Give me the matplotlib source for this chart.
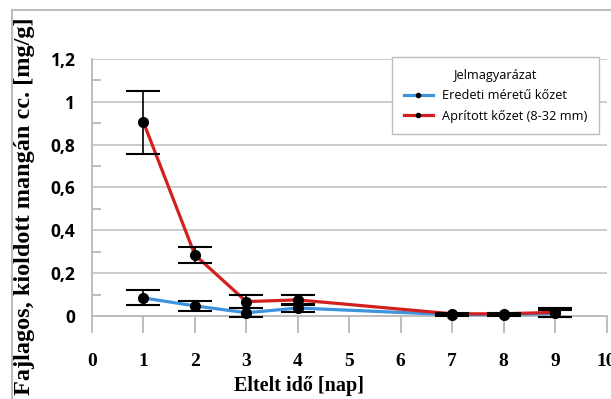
import matplotlib.pyplot as plt
from matplotlib.font_manager import FontProperties
from matplotlib.lines import Line2D
from matplotlib.patches import Rectangle

# data
days = [1, 2, 3, 4, 7, 8, 9]
eredeti = [0.084, 0.047, 0.015, 0.037, 0.006, 0.006, 0.012]
eredeti_err = [0.035, 0.022, 0.02, 0.018, 0.005, 0.005, 0.015]
apritott = [0.905, 0.285, 0.067, 0.075, 0.01, 0.01, 0.017]
apritott_err = [0.147, 0.037, 0.03, 0.023, 0.006, 0.006, 0.02]

x_ticks = list(range(0, 11))
y_ticks = [0, 0.2, 0.4, 0.6, 0.8, 1.0, 1.2]
y_labels = ["0", "0,2", "0,4", "0,6", "0,8", "1", "1,2"]

blue = "#3d93dc"
red = "#d41f1f"
gray = "#c8c8c8"

serif_bold = FontProperties(family="Liberation Serif", weight="bold", size=14)

fig = plt.figure(figsize=(6.11, 3.99), dpi=100)
ax = fig.add_axes([92 / 611, (399 - 332) / 399, (606.5 - 92) / 611, (332 - 59) / 399])

ax.set_xlim(0, 10)
ax.set_ylim(-0.075, 1.2)

# grid + axis lines
for yv in y_ticks[1:]:
    ax.axhline(yv, color=gray, lw=1.3, zorder=0)
ax.axhline(0, color="#b8b8b8", lw=1.3, zorder=1)
for xv in x_ticks[1:]:
    ax.plot([xv, xv], [-0.075, 0], color="#b8b8b8", lw=1.3, clip_on=False, zorder=1)
for yv in [0.1, 0.3, 0.5, 0.7, 0.9, 1.1]:
    ax.plot([0, 0.16], [yv, yv], color="#b8b8b8", lw=1.3, zorder=1)

for s in ["top", "right", "bottom"]:
    ax.spines[s].set_visible(False)
ax.spines["left"].set_color("#b8b8b8")
ax.spines["left"].set_linewidth(1.3)

ax.set_xticks(x_ticks)
ax.set_xticklabels([str(v) for v in x_ticks], fontproperties=serif_bold)
ax.tick_params(axis="x", length=0, pad=15)
ax.set_yticks(y_ticks)
ax.set_yticklabels(y_labels, fontproperties=FontProperties(family="Open Sans", weight="bold", size=12.5))
ax.tick_params(axis="y", length=0, pad=12)

# series
ax.plot(days, eredeti, color=blue, lw=2.3, zorder=3)
ax.plot(days, apritott, color=red, lw=2.3, zorder=4)
ax.errorbar(days, eredeti, yerr=eredeti_err, fmt="o", color="black", ms=7,
            capsize=12, elinewidth=1.2, capthick=1.5, zorder=5)
ax.errorbar(days, apritott, yerr=apritott_err, fmt="o", color="black", ms=7,
            capsize=12, elinewidth=1.2, capthick=1.5, zorder=5)

# legend
handles = [
    Line2D([], [], color=blue, lw=2.3, marker="o", ms=3, mfc="black", mec="black"),
    Line2D([], [], color=red, lw=2.3, marker="o", ms=3, mfc="black", mec="black"),
]
leg = ax.legend(handles, ["Eredeti méretű kőzet", "Aprított kőzet (8-32 mm)"],
                title="Jelmagyarázat", loc="upper left",
                bbox_to_anchor=((392 - 92) / 514.5, (332 - 57) / 273),
                prop={"family": "Open Sans", "size": 9.2},
                title_fontproperties={"family": "Open Sans", "size": 9.2},
                frameon=True, fancybox=False, edgecolor="#bdbdbd", framealpha=1,
                handlelength=2.3, handletextpad=0.7, borderpad=0.9, labelspacing=0.6,
                borderaxespad=0)
leg.get_frame().set_linewidth(1.0)

# axis titles
fig.text(299 / 611, 1 - 386 / 399, "Eltelt idő [nap]", ha="center", va="center",
         fontproperties=FontProperties(family="Liberation Serif", weight="bold", size=14.5))
fig.text(25 / 611, 1 - 206 / 399, "Fajlagos, kioldott mangán cc. [mg/g]", ha="center",
         va="center", rotation=90,
         fontproperties=FontProperties(family="Liberation Serif", weight="bold", size=17.5))

# outer chart frame
fig.patches.append(Rectangle((12 / 611, -0.1), 1.2, 1 - 10 / 399 + 0.1, transform=fig.transFigure,
                             fill=False, edgecolor="#bcbcbc", lw=1.5))

fig.savefig("out.png", dpi=100)
